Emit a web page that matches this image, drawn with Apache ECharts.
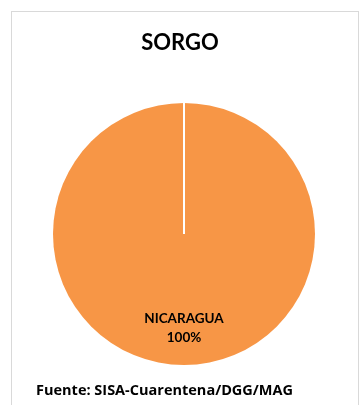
<!DOCTYPE html>
<html>
<head>
<meta charset="utf-8">
<script src="https://cdn.jsdelivr.net/npm/echarts@6/dist/echarts.min.js"></script>
<style>
  html, body { margin: 0; padding: 0; background: #fff; }
  #frame { position: absolute; left: 11px; top: 11px; width: 346px; height: 410px; border: 1px solid #d9d9d9; }
  #chart { position: absolute; left: 0; top: 0; width: 360px; height: 405px; }
</style>
</head>
<body>
<div id="frame"></div>
<div id="chart"></div>
<script>
const titleText = "SORGO";
const sourceText = "Fuente: SISA-Cuarentena/DGG/MAG";
const countries = ["NICARAGUA"];
const shares = [100];

const center = [184, 234];
const radius = 131;

const chart = echarts.init(document.getElementById("chart"));

chart.setOption({
  animation: false,
  title: {
    text: titleText,
    left: "center",
    top: 27,
    textStyle: {
      fontFamily: "Lato",
      fontWeight: "bold",
      fontSize: 22,
      color: "#000"
    }
  },
  graphic: [
    {
      // separator at the start of the slice, like the original
      type: "line",
      shape: { x1: center[0], y1: center[1] - radius, x2: center[0], y2: center[1] },
      style: { stroke: "#fff", lineWidth: 2 },
      z: 100
    },
    {
      type: "text",
      left: 36,
      top: 383,
      style: {
        text: sourceText,
        font: "bold 14.5px 'Open Sans'",
        fill: "#000"
      }
    }
  ],
  series: [
    {
      type: "pie",
      center: center,
      radius: radius,
      startAngle: 90,
      silent: true,
      itemStyle: { color: "#F79646" },
      label: {
        position: "inside",
        offset: [0, 26],
        formatter: "{b}\n{d}%",
        fontFamily: "Lato",
        fontWeight: "bold",
        fontSize: 13.5,
        lineHeight: 19,
        color: "#000"
      },
      labelLine: { show: false },
      data: countries.map((name, i) => ({ name: name, value: shares[i] }))
    }
  ]
});
</script>
</body>
</html>
